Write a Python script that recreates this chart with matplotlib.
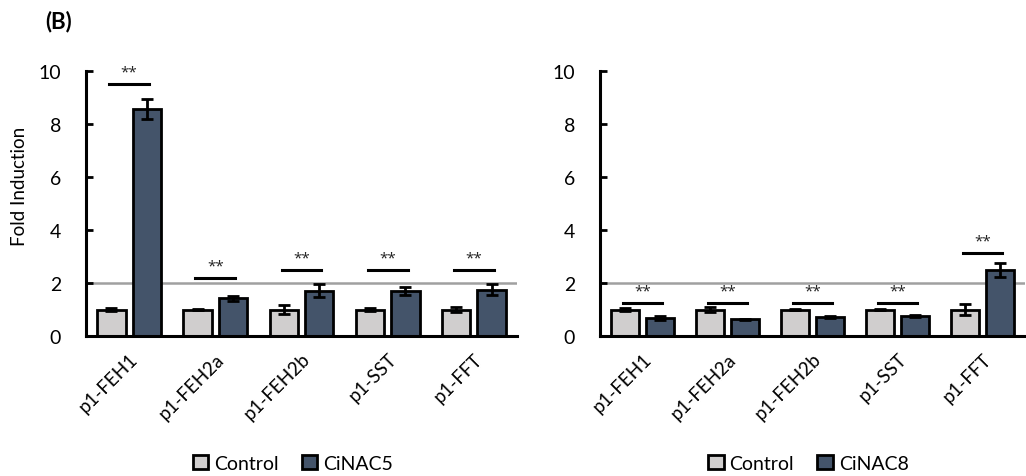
import numpy as np
import matplotlib
matplotlib.use("Agg")
import matplotlib.pyplot as plt

plt.rcParams['font.family'] = ['Lato', 'DejaVu Sans']

genes = ["p1-FEH1", "p1-FEH2a", "p1-FEH2b", "p1-SST", "p1-FFT"]

# painel esquerdo: CiNAC5
ctrl5 = [1.0, 1.0, 1.0, 1.0, 1.0]
ctrl5_err = [0.05, 0.02, 0.18, 0.05, 0.1]
nac5 = [8.57, 1.42, 1.71, 1.71, 1.75]
nac5_err = [0.38, 0.1, 0.25, 0.15, 0.22]
sig5_line = [9.5, 2.18, 2.48, 2.48, 2.48]

# painel direito: CiNAC8
ctrl8 = [1.0, 1.0, 1.0, 1.0, 1.0]
ctrl8_err = [0.06, 0.1, 0.03, 0.03, 0.2]
nac8 = [0.68, 0.64, 0.72, 0.76, 2.5]
nac8_err = [0.06, 0.02, 0.04, 0.04, 0.27]
sig8_line = [1.25, 1.25, 1.25, 1.25, 3.13]

cor_ctrl = "#D0CECE"
cor_nac = "#44546A"

fig = plt.figure(figsize=(10.26, 4.77), dpi=100)
ax1 = fig.add_axes([86/1026, 1-337/477, 431/1026, 265/477])
ax2 = fig.add_axes([600/1026, 1-337/477, 425/1026, 265/477])

def painel(ax, ctrl, ctrl_err, nac, nac_err, sig, nome, leg_x):
    x = np.arange(len(genes))
    w = 0.33
    off = 0.205
    ax.axhline(2, color="#A0A0A0", lw=1.8, zorder=1)
    ax.bar(x - off, ctrl, w, color=cor_ctrl, edgecolor="black", lw=2, label="Control", zorder=2)
    ax.bar(x + off, nac, w, color=cor_nac, edgecolor="black", lw=2, label=nome, zorder=2)
    ax.errorbar(x - off, ctrl, yerr=ctrl_err, fmt="none", ecolor="black", elinewidth=2, capsize=4, capthick=2, zorder=3)
    ax.errorbar(x + off, nac, yerr=nac_err, fmt="none", ecolor="black", elinewidth=2, capsize=4, capthick=2, zorder=3)
    for xi, s in zip(x, sig):
        ax.plot([xi - 0.23, xi + 0.23], [s, s], color="black", lw=2.2, zorder=3)
        ax.text(xi, s + 0.45, "**", ha="center", va="center", fontsize=11, color="#222222",
                family=["Open Sans", "DejaVu Sans"])
    ax.set_xlim(-0.5, len(genes) - 0.5)
    ax.set_ylim(0, 10)
    ax.set_yticks([0, 2, 4, 6, 8, 10])
    ax.set_xticks(x)
    ax.set_xticklabels(genes, rotation=45, ha="right", va="top", rotation_mode="anchor", fontsize=13.5)
    ax.tick_params(axis="y", direction="in", length=5, width=2, labelsize=14, pad=18)
    ax.tick_params(axis="x", length=0, pad=10)
    for s in ["top", "right"]:
        ax.spines[s].set_visible(False)
    for s in ["left", "bottom"]:
        ax.spines[s].set_linewidth(2.2)
    ax.legend(loc="center", bbox_to_anchor=(leg_x, -0.48), ncol=2, frameon=False,
              fontsize=14, handlelength=0.8, handleheight=0.8, handletextpad=0.3, columnspacing=1.2)

painel(ax1, ctrl5, ctrl5_err, nac5, nac5_err, sig5_line, "CiNAC5", 0.48)
painel(ax2, ctrl8, ctrl8_err, nac8, nac8_err, sig8_line, "CiNAC8", 0.49)

ax1.set_ylabel("Fold Induction", fontsize=13.5)
ax1.yaxis.set_label_coords(-0.135, 0.57)
fig.text(45/1026, 1-22/477, "(B)", fontsize=16, fontweight="bold", va="center")

fig.savefig("out.png", dpi=100)
